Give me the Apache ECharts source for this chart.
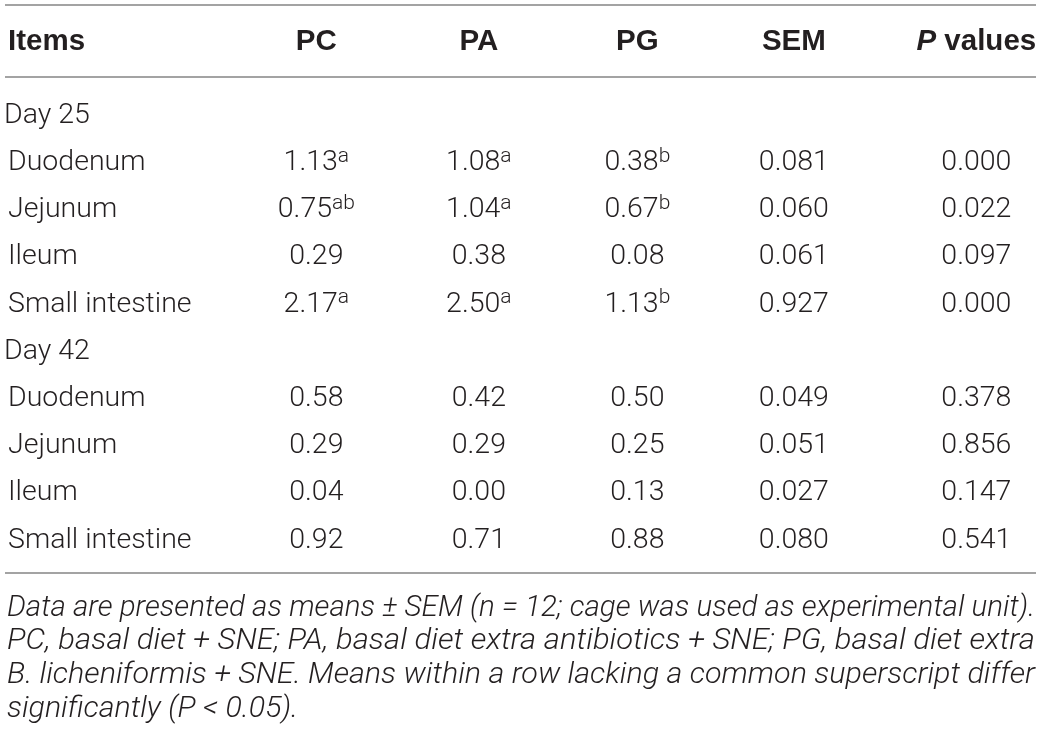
<!DOCTYPE html>
<html>
<head>
<meta charset="utf-8">
<script src="https://cdn.jsdelivr.net/npm/echarts@6.0.0/dist/echarts.min.js"></script>
<style>
  html, body { margin: 0; padding: 0; background: #fff; }
  #main { width: 1042px; height: 734px; }
</style>
</head>
<body>
<div id="main"></div>
<script>
// table content
const columns = ['PC', 'PA', 'PG', 'SEM', 'P values'];
const periods = ['Day 25', 'Day 42'];
const items = ['Duodenum', 'Jejunum', 'Ileum', 'Small intestine'];

// Day 25 rows first, then Day 42 rows
const pc = [1.13, 0.75, 0.29, 2.17, 0.58, 0.29, 0.04, 0.92];
const pa = [1.08, 1.04, 0.38, 2.50, 0.42, 0.29, 0.00, 0.71];
const pg = [0.38, 0.67, 0.08, 1.13, 0.50, 0.25, 0.13, 0.88];
const sem = [0.081, 0.060, 0.061, 0.927, 0.049, 0.051, 0.027, 0.080];
const pValues = [0.000, 0.022, 0.097, 0.000, 0.378, 0.856, 0.147, 0.541];

const pcSup = ['a', 'ab', '', 'a', '', '', '', ''];
const paSup = ['a', 'a', '', 'a', '', '', '', ''];
const pgSup = ['b', 'b', '', 'b', '', '', '', ''];
const noSup = ['', '', '', '', '', '', '', ''];

const footnotes = [
  'Data are presented as means \u00b1 SEM (n = 12; cage was used as experimental unit).',
  'PC, basal diet + SNE; PA, basal diet extra antibiotics + SNE; PG, basal diet extra',
  'B. licheniformis + SNE. Means within a row lacking a common superscript differ',
  'significantly (P < 0.05).'
];

const TEXT = '#231f20';
const RULE = '#a3a3a3';
const FONT = 'Roboto';
const BODY = 28.5;
const HEAD = 29.5;

// rows of the y axis: period heading followed by its items
const rowLabels = [];
periods.forEach((p) => {
  rowLabels.push(p);
  items.forEach((it) => rowLabels.push(it));
});
const isPeriod = (idx) => idx % (items.length + 1) === 0;

// small nudges so the columns sit where the original table puts them
const colNudge = [3, 2, -3, -10, 9];

const makeSeries = (colIdx, values, sups, digits) => {
  const data = values.map((v, j) => {
    const p = Math.floor(j / items.length);
    const k = j % items.length;
    return [colIdx, p * (items.length + 1) + 1 + k, v, sups[j]];
  });
  return {
    type: 'scatter',
    name: columns[colIdx],
    silent: true,
    symbolSize: 1,
    itemStyle: { color: 'rgba(0,0,0,0)' },
    data: data,
    label: {
      show: true,
      position: 'inside',
      opacity: 1,
      offset: [colNudge[colIdx], 0],
      formatter: (params) => {
        const d = params.data;
        let s = '{v|' + d[2].toFixed(digits) + '}';
        if (d[3]) s += '{s|' + d[3] + '}';
        return s;
      },
      rich: {
        v: { fontFamily: FONT, fontWeight: 300, fontSize: BODY, lineHeight: 34, color: TEXT },
        s: { fontFamily: FONT, fontWeight: 300, fontSize: 21, lineHeight: 19, color: TEXT, verticalAlign: 'top' }
      }
    }
  };
};

// header rich styles, one per column so each can carry its nudge
const headRich = {};
columns.forEach((c, i) => {
  const n = colNudge[i];
  const pad = n >= 0 ? [0, 0, 0, 2 * n] : [0, -2 * n, 0, 0];
  const base = { fontFamily: 'Liberation Sans', fontWeight: 'bold', fontSize: HEAD, color: TEXT, padding: pad };
  headRich['h' + i] = base;
  headRich['i' + i] = Object.assign({}, base, { fontStyle: 'italic', padding: [0, 0, 0, pad[3]] });
  headRich['r' + i] = Object.assign({}, base, { padding: [0, pad[1], 0, 0] });
});

// footnote lines are condensed to the table width
const NOTE_FONT = 'italic 300 30px ' + FONT;
const measure = document.createElement('canvas').getContext('2d');
measure.font = NOTE_FONT;
const fullW = 1028;
const scales = footnotes.map((t) => fullW / measure.measureText(t).width);
const avgScale = (scales[0] + scales[1] + scales[2]) / 3;
const footY = [608, 641, 675, 709];

const rules = [5, 77, 573].map((y) => ({
  type: 'line',
  shape: { x1: 5, y1: y, x2: 1036, y2: y },
  style: { stroke: RULE, lineWidth: 2 },
  silent: true
}));

const notes = footnotes.map((t, i) => ({
  type: 'text',
  x: 7,
  y: footY[i],
  scaleX: i < 3 ? scales[i] : avgScale,
  silent: true,
  style: {
    text: t,
    fill: TEXT,
    font: NOTE_FONT,
    textAlign: 'left',
    textVerticalAlign: 'middle',
    align: 'left',
    verticalAlign: 'middle'
  }
}));

const chart = echarts.init(document.getElementById('main'), null, { renderer: 'canvas' });

const gridTop = 92;
const gridLeft = 231.6;

chart.setOption({
  backgroundColor: '#fff',
  animation: false,
  grid: {
    left: gridLeft,
    top: gridTop,
    width: 817.5,
    height: 472,
    containLabel: false,
    outerBoundsMode: 'none'
  },
  xAxis: {
    type: 'category',
    position: 'top',
    data: columns,
    axisLine: { show: false },
    axisTick: { show: false },
    splitLine: { show: false },
    axisLabel: {
      interval: 0,
      margin: gridTop - 42,
      verticalAlign: 'middle',
      formatter: (value, idx) => {
        if (value === 'P values') return '{i' + idx + '|P}{r' + idx + '| values}';
        return '{h' + idx + '|' + value + '}';
      },
      rich: headRich
    }
  },
  yAxis: {
    type: 'category',
    inverse: true,
    data: rowLabels,
    axisLine: { show: false },
    axisTick: { show: false },
    splitLine: { show: false },
    axisLabel: {
      interval: 0,
      align: 'left',
      margin: gridLeft - 4,
      formatter: (value, idx) => (isPeriod(idx) ? '{p|' + value + '}' : '{t|' + value + '}'),
      rich: {
        p: { fontFamily: FONT, fontWeight: 300, fontSize: BODY, color: TEXT },
        t: { fontFamily: FONT, fontWeight: 300, fontSize: BODY, color: TEXT, padding: [0, 0, 0, 4] }
      }
    }
  },
  series: [
    makeSeries(0, pc, pcSup, 2),
    makeSeries(1, pa, paSup, 2),
    makeSeries(2, pg, pgSup, 2),
    makeSeries(3, sem, noSup, 3),
    makeSeries(4, pValues, noSup, 3)
  ],
  graphic: [
    ...rules,
    {
      type: 'text',
      x: 8,
      y: 42,
      silent: true,
      style: {
        text: 'Items',
        fill: TEXT,
        font: 'bold ' + HEAD + 'px "Liberation Sans"',
        textAlign: 'left',
        textVerticalAlign: 'middle',
        align: 'left',
        verticalAlign: 'middle'
      }
    },
    ...notes
  ]
});
</script>
</body>
</html>
